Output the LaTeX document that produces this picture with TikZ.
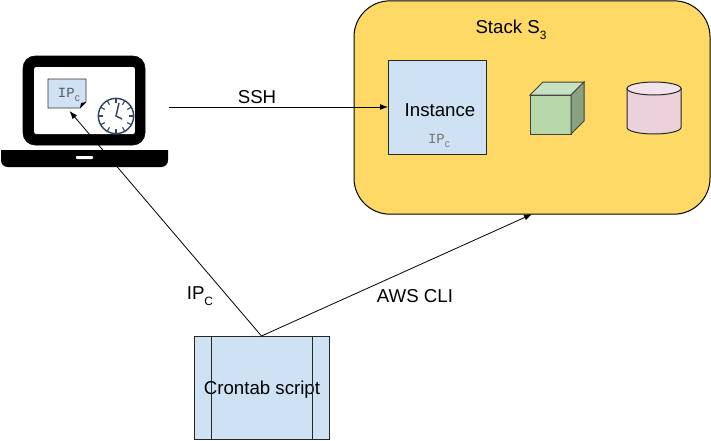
\documentclass[tikz,border=0pt]{standalone}
\usepackage{fontspec}
\setmainfont{Liberation Sans}
\setmonofont{Liberation Mono}
\usetikzlibrary{positioning,calc,arrows.meta}
\definecolor{stackyellow}{HTML}{FFD966}
\definecolor{paleblue}{HTML}{CFE2F3}
\definecolor{palegreen}{HTML}{B6D7A8}
\definecolor{palepink}{HTML}{EAD1DC}
\definecolor{clocknavy}{HTML}{2F4563}
\newcommand{\lowsub}[1]{\raisebox{-0.55ex}{\fontsize{9}{10}\selectfont #1}}
\newcommand{\monosub}[1]{\raisebox{-0.55ex}{\fontsize{6.5}{7}\selectfont #1}}

\begin{document}
\begin{tikzpicture}[
x=0.75pt, y=-0.75pt,
every node/.style={font=\fontsize{14}{16}\selectfont},
label/.style={inner sep=0pt},
monolabel/.style={inner sep=0pt, font=\fontsize{10.5}{12}\selectfont\ttfamily},
bluebox/.style={rectangle, draw=black!85, fill=paleblue, line width=0.75pt, outer sep=0pt, inner sep=0pt},
link/.style={draw=black, line width=0.6pt, -{Latex[length=6pt,width=4.5pt]}},
]
\useasboundingbox (0,0) rectangle (711,440);

%Stack
\node[rectangle, rounded corners=27pt, draw=black, fill=stackyellow, line width=0.75pt,
  minimum width=267pt, minimum height=160pt, outer sep=0pt] (stack) at (532,107.5) {};
\node[label] (stacktitle) at (511,30) {Stack S\lowsub{3}};
\node[bluebox, minimum width=73.5pt, minimum height=70.5pt] (instance) at (437,107) {};
\node[label] (instancetext) at (440,110) {Instance};
\node[monolabel, text=black!55] (instanceip) at (439,141) {IP\monosub{C}};

%Cube
\draw[fill=palegreen, draw=black!75, line width=0.75pt] (530,95) rectangle (571,134);
\draw[fill=palegreen!75!white, draw=black!75, line width=0.75pt] (530,95) -- (543,82) -- (584,82) -- (571,95) -- cycle;
\draw[fill=palegreen!75!black, draw=black!75, line width=0.75pt] (571,95) -- (584,82) -- (584,121) -- (571,134) -- cycle;

%Cylinder
\draw[fill=palepink, draw=black!85, line width=0.75pt] (627,88.5) -- (627,127.5) arc[start angle=180, end angle=0, x radius=27, y radius=6.5] -- (681,88.5) -- cycle;
\draw[fill=palepink!60!white, draw=black!85, line width=0.75pt] (654,88.5) ellipse[x radius=27, y radius=6.5];

%Laptop
\node[rectangle, rounded corners=9pt, draw=black, fill=black, minimum width=91.5pt, minimum height=66.75pt, outer sep=0pt] (screen) at (84,100.5) {};
\node[rectangle, rounded corners=1.5pt, fill=white, minimum width=75.5pt, minimum height=50.25pt, outer sep=0pt] (display) at (84.5,100.5) {};
\fill[black] (1,150) -- (168,150) [rounded corners=5pt] -- (168,167) -- (1,167) [sharp corners] -- cycle;
\fill[white, rounded corners=0.6pt] (76,156) rectangle (93,159);

%Paper
\node[rectangle, minimum width=28.5pt, minimum height=21.75pt, inner sep=0pt, outer sep=0pt] (paper) at (67,93.5) {};
\draw[fill=paleblue, draw=black!80, line width=0.6pt] (48,79) -- (86,79) -- (86,102) -- (80,108) -- (48,108) -- cycle;
\fill[black] (86,102) -- (80,108) -- (81,103) -- cycle;
\node[monolabel, text=black!65] (paperip) at (69,95) {IP\monosub{C}};

%Clock
\node[circle, draw=clocknavy, fill=white, line width=1.1pt, minimum size=26.5pt, inner sep=0pt, outer sep=0pt] (clock) at (116,116) {};
\foreach \a in {0,30,...,330}
  \draw[clocknavy, line width=0.8pt] (clock.center) ++(\a:13) -- ++(\a:4.5);
\draw[clocknavy, line width=1.1pt] (119,103) -- (clock.center) -- (122,119);

%Labels
\coordinate (sshstart) at (169,107);
\node[label] (sshlabel) at (257,97) {SSH};
\node[label] (ipclabel) at (200,296) {IP\lowsub{C}};
\node[label] (awslabel) at (415,296) {AWS CLI};

%Crontab
\node[bluebox, minimum width=101.25pt, minimum height=77.25pt] (cron) at (261.5,387.5) {};
\node[label] (crontext) at (262,390) {Crontab script};
\draw[black!85, line width=0.75pt] (cron.north west) ++(17,0) -- ($(cron.south west)+(17,0)$);
\draw[black!85, line width=0.75pt] (cron.north east) ++(-17,0) -- ($(cron.south east)+(-17,0)$);

%Lines
\draw[link] (sshstart) -- (instance.west);
\draw[link, shorten >=3pt] (cron.north) -- (paper.south);
\draw[link] (cron.north) -- (stack.south);
\end{tikzpicture}
\end{document}
